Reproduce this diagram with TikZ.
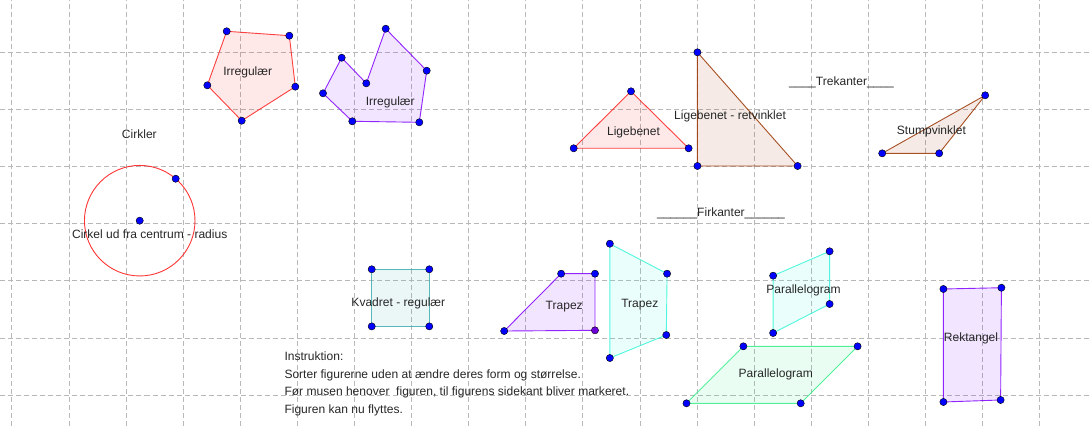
\documentclass[tikz,border=0pt]{standalone}
\usepackage{fontspec}
\setmainfont{Liberation Sans}

\definecolor{ggred}{HTML}{FF2020}
\definecolor{ggpurple}{HTML}{7F00FF}
\definecolor{ggbrown}{HTML}{993300}
\definecolor{ggteal}{HTML}{3AADAD}
\definecolor{ggcyan}{HTML}{33F5D8}
\definecolor{gggreen}{HTML}{33EE88}

\begin{document}
\begin{tikzpicture}[x=2cm,y=2cm,
    gridline/.style={black!28,line width=0.5pt,dash pattern=on 5pt off 3pt},
    figur/.style={line width=0.9pt,draw=#1,fill=#1,fill opacity=0.1,draw opacity=0.85},
    punkt/.style={fill=#1,draw=black,line width=0.4pt},
    punkt/.default=blue,
    lbl/.style={font=\fontsize{12}{14}\selectfont,text=black!85,inner sep=0pt}]

      \useasboundingbox (-0.205,-6.545) rectangle (18.902,0.916);
      \draw [gridline,step=2cm] (-0.205,-6.545) grid (18.902,0.916);

      % irregulaere
      \draw [figur=ggred] (3.765,0.368) -- (4.862,0.291) -- (4.967,-0.602) -- (4.028,-1.198) -- (3.426,-0.578) -- cycle;
      \node [lbl] (irr1) at (4.133,-0.357) {Irregulær};
      \foreach \p in {(3.765,0.368),(4.862,0.291),(4.967,-0.602),(4.028,-1.198),(3.426,-0.578)}
        \filldraw [punkt] \p circle (3.6pt);

      \draw [figur=ggpurple] (6.550,0.413) -- (7.268,-0.322) -- (7.138,-1.226) -- (5.965,-1.208) -- (5.452,-0.718) -- (5.779,-0.095) -- (6.210,-0.543) -- cycle;
      \node [lbl] (irr2) at (6.630,-0.876) {Irregulær};
      \foreach \p in {(6.550,0.413),(7.268,-0.322),(7.138,-1.226),(5.965,-1.208),(5.452,-0.718),(5.779,-0.095),(6.210,-0.543)}
        \filldraw [punkt] \p circle (3.6pt);

      % cirkel
      \node [lbl] (cirkler) at (2.235,-1.436) {Cirkler};
      \draw [ggred,line width=0.9pt,opacity=0.9] (2.242,-2.949) circle (0.968);
      \node [lbl] (cirkel) at (2.417,-3.187) {Cirkel ud fra centrum - radius};
      \filldraw [punkt] (2.242,-2.949) circle (3.6pt);
      \filldraw [punkt] (2.872,-2.214) circle (3.6pt);

      % kvadrat
      \draw [figur=ggteal] (6.305,-3.8) rectangle (7.313,-4.8);
      \node [lbl] (kvadret) at (6.771,-4.403) {Kvadret - regulær};
      \foreach \p in {(6.305,-3.8),(7.313,-3.8),(7.313,-4.8),(6.305,-4.8)}
        \filldraw [punkt] \p circle (3.6pt);

      % trekanter
      \draw [figur=ggred] (10.846,-0.683) -- (9.842,-1.681) -- (11.855,-1.681) -- cycle;
      \node [lbl] (ligebenet) at (10.890,-1.401) {Ligebenet};
      \foreach \p in {(10.846,-0.683),(9.842,-1.681),(11.855,-1.681)}
        \filldraw [punkt] \p circle (3.6pt);

      \draw [figur=ggbrown] (12.009,0) -- (12.009,-1.991) -- (13.764,-1.991) -- cycle;
      \node [lbl] (retvinklet) at (12.581,-1.128) {Ligebenet - retvinklet};
      \foreach \p in {(12.009,0),(12.009,-1.991),(13.764,-1.991)}
        \filldraw [punkt] \p circle (3.6pt);

      \node [lbl,anchor=base] (trekanter) at (14.532,-0.590) {\_\_\_\_Trekanter\_\_\_\_};

      \draw [figur=ggbrown] (17.049,-0.753) -- (15.245,-1.769) -- (16.243,-1.769) -- cycle;
      \node [lbl] (stump) at (16.107,-1.391) {Stumpvinklet};
      \foreach \p in {(17.049,-0.753),(15.245,-1.769),(16.243,-1.769)}
        \filldraw [punkt] \p circle (3.6pt);

      % firkanter
      \node [lbl,anchor=base] (firkanter) at (12.422,-2.884) {\_\_\_\_\_\_Firkanter\_\_\_\_\_\_};

      \draw [figur=ggpurple] (9.622,-3.877) -- (10.215,-3.877) -- (10.215,-4.869) -- (8.625,-4.881) -- cycle;
      \node [lbl] (trapez1) at (9.676,-4.448) {Trapez};
      \foreach \p in {(9.622,-3.877),(10.215,-3.877),(8.625,-4.881)}
        \filldraw [punkt] \p circle (3.6pt);
      \filldraw [punkt=ggpurple!85!black] (10.215,-4.869) circle (3.6pt);

      \draw [figur=ggcyan] (10.475,-3.352) -- (11.478,-3.877) -- (11.464,-4.951) -- (10.475,-5.354) -- cycle;
      \node [lbl] (trapez2) at (11.0,-4.420) {Trapez};
      \foreach \p in {(10.475,-3.352),(11.478,-3.877),(11.464,-4.951),(10.475,-5.354)}
        \filldraw [punkt] \p circle (3.6pt);

      \draw [figur=ggcyan] (13.335,-3.912) -- (14.324,-3.485) -- (14.324,-4.408) -- (13.335,-4.916) -- cycle;
      \node [lbl] (para1) at (13.867,-4.175) {Parallelogram};
      \foreach \p in {(13.335,-3.912),(14.324,-3.485),(14.324,-4.408),(13.335,-4.916)}
        \filldraw [punkt] \p circle (3.6pt);

      \draw [figur=gggreen] (12.814,-5.149) -- (14.814,-5.149) -- (13.818,-6.147) -- (11.818,-6.147) -- cycle;
      \node [lbl] (para2) at (13.382,-5.646) {Parallelogram};
      \foreach \p in {(12.814,-5.149),(14.814,-5.149),(13.818,-6.147),(11.818,-6.147)}
        \filldraw [punkt] \p circle (3.6pt);

      \draw [figur=ggpurple] (16.317,-4.145) -- (17.333,-4.123) -- (17.319,-6.089) -- (16.317,-6.124) -- cycle;
      \node [lbl] (rektangel) at (16.800,-5.016) {Rektangel};
      \foreach \p in {(16.317,-4.145),(17.333,-4.123),(17.319,-6.089),(16.317,-6.124)}
        \filldraw [punkt] \p circle (3.6pt);

      % instruktion
      \node [lbl,anchor=north west,align=left,font=\fontsize{12}{17.7}\selectfont] (instruktion) at (4.774,-5.238)
        {Instruktion:\\
         Sorter figurerne uden at ændre deres form og størrelse.\\
         Før musen henover\ \ figuren, til figurens sidekant bliver markeret.\\
         Figuren kan nu flyttes.};
    \end{tikzpicture}
\end{document}
